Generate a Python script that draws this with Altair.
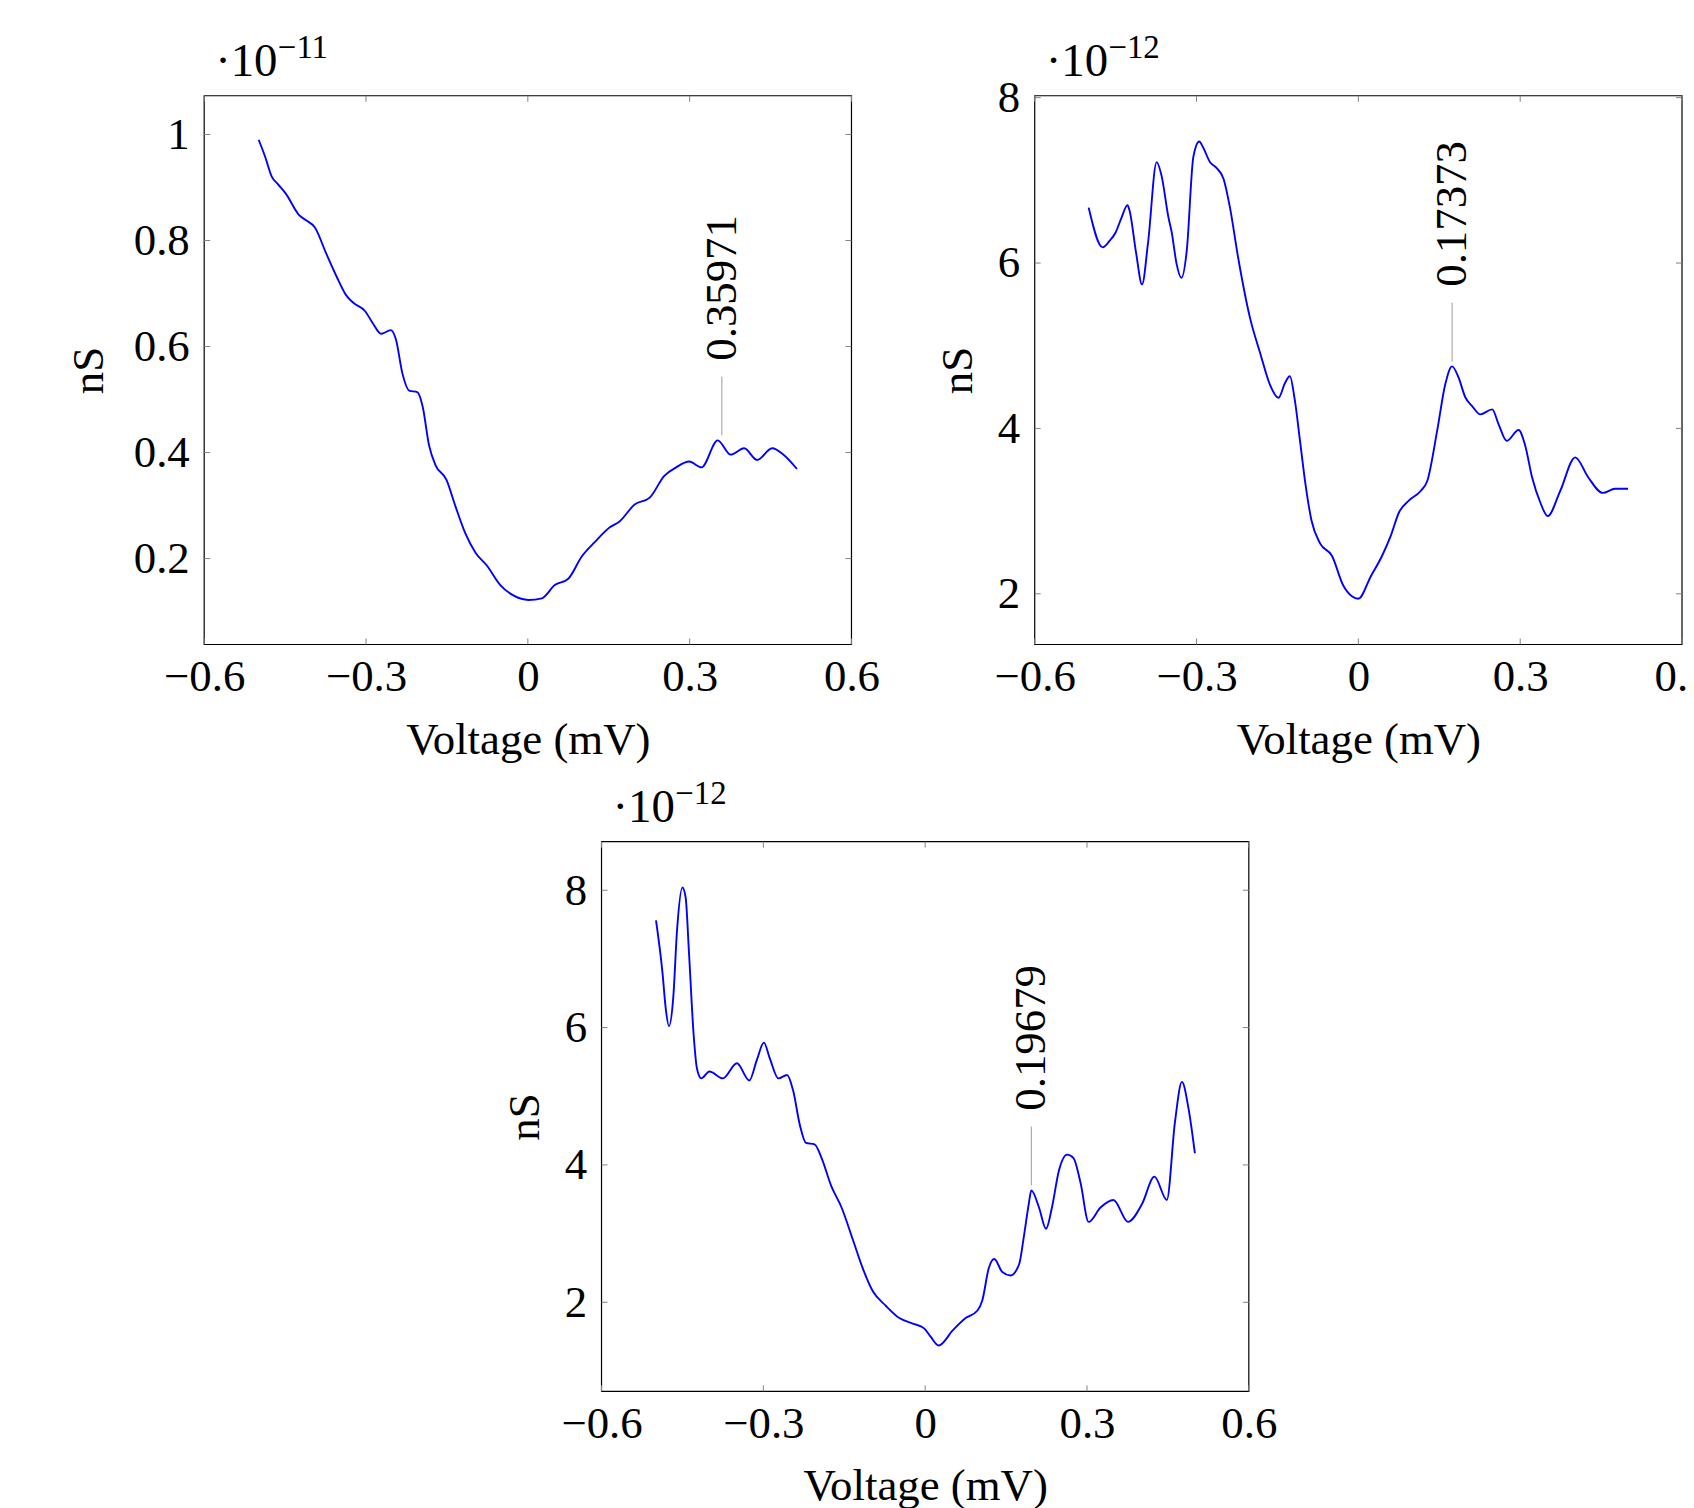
import altair as alt
import pandas as pd

FONT = "Liberation Serif"
FS = 45
EXP_FS = 47
SUP_FS = 33
BLUE = "#0000ff"
TICK_GRAY = "#808080"
PIN_GRAY = "#9a9a9a"

x_ticks = [-0.6, -0.3, 0.0, 0.3, 0.6]
x_domain = [-0.6, 0.6]

# Panel 1 (units of 1e-11 nS)
v1 = [-0.499, -0.487, -0.475, -0.463, -0.449, -0.424, -0.411, -0.395, -0.374, -0.355,
      -0.337, -0.323, -0.302, -0.288, -0.272, -0.254, -0.245, -0.232, -0.220, -0.205,
      -0.195, -0.183, -0.171, -0.151, -0.134, -0.116, -0.097, -0.076, -0.051, -0.026,
      0.001, 0.026, 0.050, 0.075, 0.100, 0.124, 0.152, 0.170, 0.198, 0.226,
      0.253, 0.275, 0.299, 0.322, 0.352, 0.376, 0.401, 0.425, 0.453, 0.474, 0.499]
g1 = [0.990, 0.958, 0.921, 0.906, 0.889, 0.848, 0.838, 0.825, 0.776, 0.733,
      0.697, 0.682, 0.667, 0.645, 0.624, 0.631, 0.615, 0.547, 0.517, 0.514,
      0.487, 0.413, 0.376, 0.349, 0.298, 0.248, 0.211, 0.187, 0.150, 0.130,
      0.122, 0.125, 0.150, 0.162, 0.204, 0.231, 0.259, 0.270, 0.302, 0.315,
      0.356, 0.372, 0.383, 0.372, 0.423, 0.396, 0.408, 0.386, 0.408, 0.396, 0.369]
y1_ticks = [0.2, 0.4, 0.6, 0.8, 1.0]
y1_domain = [0.038, 1.073]
peak1_v, peak1_g, peak1_label = 0.35971, 0.423, "0.35971"
exp1 = "\u221211"

# Panel 2 (units of 1e-12 nS)
v2 = [-0.500, -0.474, -0.461, -0.450, -0.439, -0.428, -0.424, -0.412, -0.401, -0.390,
      -0.374, -0.365, -0.352, -0.346, -0.337, -0.328, -0.318, -0.306, -0.295, -0.288,
      -0.275, -0.263, -0.250, -0.238, -0.223, -0.201, -0.182, -0.164, -0.148, -0.136,
      -0.127, -0.118, -0.108, -0.099, -0.087, -0.071, -0.049, -0.028, -0.012, 0.000,
      0.023, 0.044, 0.060, 0.075, 0.094, 0.115, 0.128, 0.146, 0.161, 0.1737,
      0.186, 0.198, 0.211, 0.226, 0.248, 0.260, 0.275, 0.297, 0.309, 0.322,
      0.337, 0.351, 0.374, 0.402, 0.426, 0.453, 0.476, 0.500]
g2 = [6.67, 6.19, 6.27, 6.37, 6.55, 6.70, 6.63, 6.12, 5.74, 6.24,
      7.22, 7.06, 6.55, 6.37, 5.99, 5.82, 6.16, 7.28, 7.47, 7.40,
      7.22, 7.15, 7.02, 6.67, 6.07, 5.34, 4.91, 4.53, 4.37, 4.55,
      4.63, 4.35, 3.84, 3.37, 2.89, 2.61, 2.46, 2.10, 1.97, 1.94,
      2.21, 2.46, 2.70, 2.98, 3.13, 3.24, 3.37, 3.97, 4.53, 4.75,
      4.61, 4.38, 4.27, 4.17, 4.23, 4.05, 3.85, 3.98, 3.80, 3.41,
      3.11, 2.94, 3.24, 3.65, 3.41, 3.22, 3.27, 3.27]
y2_ticks = [2, 4, 6, 8]
y2_domain = [1.387, 8.023]
peak2_v, peak2_g, peak2_label = 0.17373, 4.75, "0.17373"
exp2 = "\u221212"

# Panel 3 (units of 1e-12 nS)
v3 = [-0.499, -0.487, -0.481, -0.475, -0.467, -0.460, -0.450, -0.444, -0.438, -0.429,
      -0.423, -0.415, -0.400, -0.375, -0.349, -0.326, -0.312, -0.299, -0.288, -0.272,
      -0.256, -0.245, -0.232, -0.221, -0.205, -0.192, -0.174, -0.155, -0.134, -0.116,
      -0.097, -0.073, -0.048, -0.023, -0.002, 0.010, 0.025, 0.051, 0.075, 0.097,
      0.106, 0.118, 0.128, 0.143, 0.158, 0.174, 0.183, 0.192, 0.1968, 0.211,
      0.224, 0.235, 0.248, 0.263, 0.275, 0.288, 0.303, 0.325, 0.349, 0.376,
      0.402, 0.425, 0.448, 0.463, 0.476, 0.488, 0.500]
g3 = [7.56, 6.80, 6.28, 6.02, 6.44, 7.42, 8.04, 7.89, 7.11, 5.87,
      5.40, 5.26, 5.36, 5.26, 5.48, 5.23, 5.53, 5.78, 5.55, 5.26,
      5.31, 5.09, 4.57, 4.32, 4.30, 4.10, 3.69, 3.38, 2.91, 2.50,
      2.16, 1.95, 1.77, 1.69, 1.62, 1.50, 1.37, 1.59, 1.77, 1.88,
      2.03, 2.50, 2.63, 2.44, 2.39, 2.55, 2.96, 3.43, 3.63, 3.38,
      3.07, 3.38, 3.92, 4.15, 4.10, 3.74, 3.17, 3.38, 3.49, 3.17,
      3.43, 3.83, 3.49, 4.62, 5.21, 4.83, 4.17]
y3_ticks = [2, 4, 6, 8]
y3_domain = [0.703, 8.707]
peak3_v, peak3_g, peak3_label = 0.19679, 3.63, "0.19679"
exp3 = "\u221212"

TOTAL_W, TOTAL_H = 1485, 1301

panels = [
    dict(v=v1, g=g1, yt=y1_ticks, yd=y1_domain, pv=peak1_v, pg=peak1_g, pl=peak1_label,
         ex=exp1, xr=[0, 650], yr=[551, 0], ytp=22),
    dict(v=v2, g=g2, yt=y2_ticks, yd=y2_domain, pv=peak2_v, pg=peak2_g, pl=peak2_label,
         ex=exp2, xr=[834, 1484], yr=[551, 0], ytp=17),
    dict(v=v3, g=g3, yt=y3_ticks, yd=y3_domain, pv=peak3_v, pg=peak3_g, pl=peak3_label,
         ex=exp3, xr=[399, 1049], yr=[1301, 749], ytp=17),
]


def build(p):
    def xsc():
        return alt.Scale(domain=x_domain, range=p["xr"], nice=False, zero=False)

    def ysc():
        return alt.Scale(domain=p["yd"], range=p["yr"], nice=False, zero=False)

    def X(f):
        return alt.X(f, scale=xsc(), axis=None)

    def Y(f):
        return alt.Y(f, scale=ysc(), axis=None)

    x_off = p["yr"][0] - TOTAL_H
    y_off = -p["xr"][0]
    lo, hi = p["yd"]

    line_df = pd.DataFrame({"v": p["v"], "g": p["g"]})
    line = alt.Chart(line_df).mark_line(
        color=BLUE, strokeWidth=1.9, interpolate="monotone"
    ).encode(
        x=alt.X("v:Q", scale=xsc(), axis=alt.Axis(
            orient="bottom", offset=x_off, values=x_ticks, format="~g",
            grid=False, ticks=False, domain=False,
            labelFont=FONT, labelFontSize=FS, labelColor="black", labelPadding=10,
            labelFlush=False, labelOverlap=False,
            title="Voltage (mV)", titleFont=FONT, titleFontSize=FS,
            titleFontWeight="normal", titleColor="black", titlePadding=18)),
        y=alt.Y("g:Q", scale=ysc(), axis=alt.Axis(
            orient="left", offset=y_off, values=p["yt"], format="~g",
            grid=False, ticks=False, domain=False,
            labelFont=FONT, labelFontSize=FS, labelColor="black", labelPadding=15,
            labelFlush=False, labelOverlap=False,
            title="nS", titleFont=FONT, titleFontSize=FS,
            titleFontWeight="normal", titleColor="black", titlePadding=p["ytp"])),
    )

    frame_df = pd.DataFrame({"x0": [x_domain[0]], "x1": [x_domain[1]], "y0": [lo], "y1": [hi]})
    frame = alt.Chart(frame_df).mark_rect(
        fillOpacity=0, stroke="black", strokeWidth=1.2
    ).encode(x=X("x0:Q"), x2="x1", y=Y("y0:Q"), y2="y1")

    xt_df = pd.DataFrame({"t": x_ticks, "lo": [lo] * len(x_ticks), "hi": [hi] * len(x_ticks)})
    yt_df = pd.DataFrame({"t": p["yt"], "lo": [x_domain[0]] * len(p["yt"]),
                          "hi": [x_domain[1]] * len(p["yt"])})
    bt = alt.Chart(xt_df).mark_rule(color=TICK_GRAY, strokeWidth=1, y2Offset=-6).encode(
        x=X("t:Q"), y=Y("lo:Q"), y2="lo")
    tt = alt.Chart(xt_df).mark_rule(color=TICK_GRAY, strokeWidth=1, y2Offset=6).encode(
        x=X("t:Q"), y=Y("hi:Q"), y2="hi")
    lt = alt.Chart(yt_df).mark_rule(color=TICK_GRAY, strokeWidth=1, x2Offset=6).encode(
        y=Y("t:Q"), x=X("lo:Q"), x2="lo")
    rt = alt.Chart(yt_df).mark_rule(color=TICK_GRAY, strokeWidth=1, x2Offset=-6).encode(
        y=Y("t:Q"), x=X("hi:Q"), x2="hi")

    pk_df = pd.DataFrame({"pv": [p["pv"]], "pg": [p["pg"]], "lab": [p["pl"]]})
    pin = alt.Chart(pk_df).mark_rule(
        color=PIN_GRAY, strokeWidth=1, yOffset=-5, y2Offset=-64
    ).encode(x=X("pv:Q"), y=Y("pg:Q"), y2="pg")
    pin_text = alt.Chart(pk_df).mark_text(
        font=FONT, fontSize=FS, angle=270, align="left", baseline="middle",
        yOffset=-80, color="black"
    ).encode(x=X("pv:Q"), y=Y("pg:Q"), text="lab:N")

    ex_df = pd.DataFrame({"x": [x_domain[0]], "y": [hi], "a": ["\u00b710"], "b": [p["ex"]]})
    e1 = alt.Chart(ex_df).mark_text(
        font=FONT, fontSize=EXP_FS, align="left", baseline="alphabetic",
        xOffset=11, yOffset=-20, color="black"
    ).encode(x=X("x:Q"), y=Y("y:Q"), text="a:N")
    e2 = alt.Chart(ex_df).mark_text(
        font=FONT, fontSize=SUP_FS, align="left", baseline="alphabetic",
        xOffset=74, yOffset=-38, color="black"
    ).encode(x=X("x:Q"), y=Y("y:Q"), text="b:N")

    return [frame, bt, tt, lt, rt, line, pin, pin_text, e1, e2]


layers = []
for p in panels:
    layers.extend(build(p))

chart = alt.layer(*layers).resolve_scale(
    x="independent", y="independent"
).properties(
    width=TOTAL_W, height=TOTAL_H,
    autosize=alt.AutoSizeParams(type="none"),
    padding={"left": 197, "top": 85, "right": 3, "bottom": 114},
).configure_view(stroke=None)

chart.save("out.html", embed_options={"renderer": "svg", "actions": False})
